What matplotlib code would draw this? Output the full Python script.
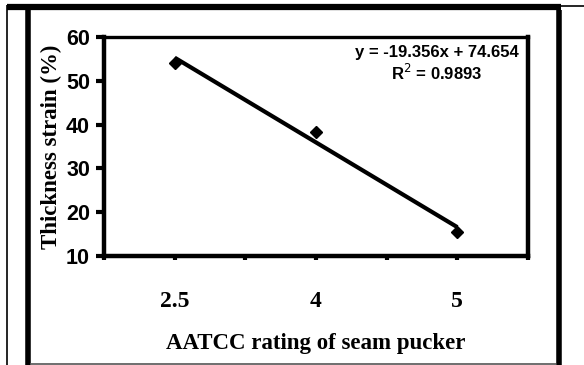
import matplotlib
matplotlib.use("Agg")
import matplotlib.pyplot as plt
from matplotlib.lines import Line2D
import numpy as np

# data
ratings = ["2.5", "4", "5"]
strain = [54.1, 38.3, 15.4]
eq_text = "y = -19.356x + 74.654"
r2_text = "R$^2$ = 0.9893"

W, H = 584, 365
fig = plt.figure(figsize=(W / 100, H / 100), dpi=100)
fig.patch.set_facecolor("white")

def px(x, y):
    return x / W, 1 - y / H

def frame_line(x0, y0, x1, y1, lw, color="black"):
    (a, b), (c, d) = px(x0, y0), px(x1, y1)
    fig.add_artist(Line2D([a, c], [b, d], transform=fig.transFigure,
                          lw=lw, color=color, solid_capstyle="butt"))

# table-cell style frame around the chart
frame_line(6.5, 5, 6.5, 365, 1.2)
frame_line(561, 5.5, 584, 5.5, 1.2)
frame_line(7, 7, 561, 7, 4.5)
frame_line(27.5, 10, 27.5, 365, 4)
frame_line(558.5, 10, 558.5, 365, 4)
frame_line(30, 363.5, 556, 363.5, 1.2, "#555555")

l, b = px(104, 256)
r, t = px(528, 37)
ax = fig.add_axes([l, b, r - l, t - b])

x = np.arange(1, len(ratings) + 1)
ax.plot(x, strain, linestyle="none", marker="D", ms=6, color="black", zorder=3)

slope, icpt = np.polyfit(x, strain, 1)
ax.plot(x, slope * x + icpt, color="black", lw=3, solid_capstyle="butt")

ax.set_xlim(0.5, 3.5)
ax.set_ylim(10, 60)
ax.set_yticks(range(10, 61, 10))
ax.set_xticks(x)
ax.set_xticks([0.5, 1.5, 2.5, 3.5], minor=True)
ax.set_xticklabels(ratings, fontfamily="Liberation Serif", fontweight="bold", fontsize=17)
for lab in ax.get_yticklabels():
    lab.set_fontfamily("Liberation Sans")
    lab.set_fontweight("bold")
    lab.set_fontsize(15.5)

ax.tick_params(axis="y", direction="out", length=6, width=3, pad=4)
ax.tick_params(axis="x", which="both", direction="out", length=3, width=3, pad=22)

for side in ["left", "bottom", "right"]:
    ax.spines[side].set_linewidth(3.2)
ax.spines["top"].set_linewidth(2.4)

ax.set_xlabel("AATCC rating of seam pucker", fontfamily="Liberation Serif",
              fontweight="bold", fontsize=16.5, labelpad=15)
ax.set_ylabel("Thickness strain (%)", fontfamily="Liberation Serif",
              fontweight="bold", fontsize=16.5, labelpad=3)

ax.text(0.785, 0.93, eq_text, transform=ax.transAxes, ha="center", va="center",
        fontfamily="Liberation Sans", fontweight="bold", fontsize=12)
ax.text(0.785, 0.835, r2_text, transform=ax.transAxes, ha="center", va="center",
        fontfamily="Liberation Sans", fontweight="bold", fontsize=12)

fig.savefig("out.png", dpi=100)
